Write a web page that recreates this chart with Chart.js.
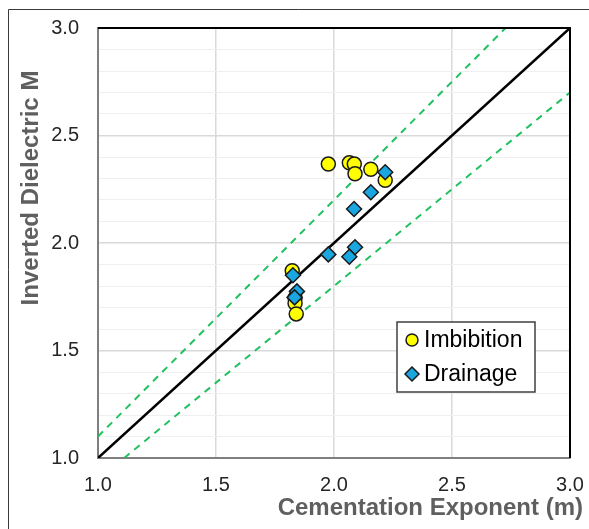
<!DOCTYPE html>
<html>
<head>
<meta charset="utf-8">
<script src="https://cdn.jsdelivr.net/npm/chart.js@4/dist/chart.umd.min.js"></script>
<style>
  html, body { margin: 0; padding: 0; background: #ffffff; }
  canvas { display: block; }
</style>
</head>
<body>
<canvas id="chart" width="589" height="529"></canvas>
<script>
// Cementation exponent (m) vs inverted dielectric M
const imbibitionM   = [1.976, 2.065, 2.086, 2.089, 2.156, 2.217, 1.823, 1.835, 1.835, 1.840];
const imbibitionInv = [2.367, 2.373, 2.367, 2.322, 2.343, 2.292, 1.871, 1.744, 1.720, 1.670];

const drainageM   = [2.217, 2.156, 2.085, 1.976, 2.089, 2.065, 1.826, 1.843, 1.833];
const drainageInv = [2.329, 2.236, 2.158, 1.947, 1.980, 1.936, 1.850, 1.775, 1.747];

// 1:1 line and +/-10 % bounds
const oneToOneX = [1.0, 3.0];
const oneToOneY = [1.0, 3.0];
const upperX = [1.0, 2.727];
const upperY = [1.1, 3.0];
const lowerX = [1.111, 3.0];
const lowerY = [1.0, 2.7];

const axisMin = 1.0;
const axisMax = 3.0;
const majorStep = 0.5;
const minorStep = 0.1;

const legendLabels = ['Imbibition', 'Drainage'];
const xTitle = 'Cementation Exponent (m)';
const yTitle = 'Inverted Dielectric M';

const pts = (xs, ys) => xs.map((x, i) => ({ x: x, y: ys[i] }));

const FONT = '"Liberation Sans", Arial, sans-serif';

const isMajor = v => Math.abs(v / majorStep - Math.round(v / majorStep)) < 1e-6;

// keep the plot area fixed: no extra room for overhanging end labels
const noOverhang = scale => {
  scale.paddingLeft = 0;
  scale.paddingRight = 0;
  scale.paddingTop = 0;
  scale.paddingBottom = 0;
};

// Axis titles, plot frame and the outer border
const decorations = {
  id: 'decorations',
  afterDraw(chart) {
    const { ctx, chartArea: a } = chart;
    ctx.save();
    // plot frame: top and right edges
    ctx.strokeStyle = '#000000';
    ctx.lineWidth = 2;
    ctx.beginPath();
    ctx.moveTo(a.left, a.top);
    ctx.lineTo(a.right, a.top);
    ctx.lineTo(a.right, a.bottom);
    ctx.stroke();
    // outer border
    ctx.strokeStyle = '#3a3a3a';
    ctx.lineWidth = 1;
    ctx.beginPath();
    ctx.moveTo(8.5, chart.height);
    ctx.lineTo(8.5, 9.5);
    ctx.lineTo(chart.width, 9.5);
    ctx.stroke();
    // axis titles
    ctx.fillStyle = '#5f5f5f';
    ctx.font = 'bold 24px ' + FONT;
    ctx.textAlign = 'right';
    ctx.textBaseline = 'middle';
    ctx.fillText(xTitle, 583, 508);
    ctx.translate(31, 188);
    ctx.rotate(-Math.PI / 2);
    ctx.textAlign = 'center';
    ctx.fillText(yTitle, 0, 0);
    ctx.restore();
  }
};

// Boxed legend inside the plot area
const boxLegend = {
  id: 'boxLegend',
  afterDraw(chart) {
    const { ctx } = chart;
    const x0 = 397, y0 = 322, w = 138, h = 70;
    ctx.save();
    ctx.fillStyle = '#ffffff';
    ctx.fillRect(x0, y0, w, h);
    ctx.strokeStyle = '#404040';
    ctx.lineWidth = 1.5;
    ctx.strokeRect(x0, y0, w, h);
    ctx.font = '23px ' + FONT;
    ctx.textBaseline = 'middle';
    ctx.textAlign = 'left';
    [0, 1].forEach(i => {
      const ds = chart.data.datasets[i];
      const cx = x0 + 15;
      const cy = y0 + 18 + i * 34;
      ctx.fillStyle = ds.backgroundColor;
      ctx.strokeStyle = ds.borderColor;
      ctx.lineWidth = 1.5;
      ctx.beginPath();
      if (ds.pointStyle === 'circle') {
        ctx.arc(cx, cy, 6, 0, Math.PI * 2);
      } else {
        ctx.moveTo(cx, cy - 7);
        ctx.lineTo(cx + 7, cy);
        ctx.lineTo(cx, cy + 7);
        ctx.lineTo(cx - 7, cy);
        ctx.closePath();
      }
      ctx.fill();
      ctx.stroke();
      ctx.fillStyle = '#000000';
      ctx.fillText(legendLabels[i], x0 + 27, cy + 1);
    });
    ctx.restore();
  }
};

new Chart(document.getElementById('chart'), {
  type: 'scatter',
  data: {
    datasets: [
      {
        label: legendLabels[0],
        data: pts(imbibitionM, imbibitionInv),
        pointStyle: 'circle',
        pointRadius: 7,
        pointHoverRadius: 7,
        backgroundColor: '#ffff00',
        borderColor: '#1a1a1a',
        borderWidth: 1.5,
        order: 2
      },
      {
        label: legendLabels[1],
        data: pts(drainageM, drainageInv),
        pointStyle: 'rectRot',
        pointRadius: 7.5,
        pointHoverRadius: 7.5,
        backgroundColor: '#1aa6e0',
        borderColor: '#1a1a1a',
        borderWidth: 1.5,
        order: 1
      },
      {
        type: 'line',
        label: '1:1',
        data: pts(oneToOneX, oneToOneY),
        borderColor: '#000000',
        borderWidth: 2.5,
        pointRadius: 0,
        fill: false,
        order: 3
      },
      {
        type: 'line',
        label: '+10%',
        data: pts(upperX, upperY),
        borderColor: '#22c060',
        borderWidth: 2,
        borderDash: [7, 6],
        pointRadius: 0,
        fill: false,
        order: 4
      },
      {
        type: 'line',
        label: '-10%',
        data: pts(lowerX, lowerY),
        borderColor: '#22c060',
        borderWidth: 2,
        borderDash: [7, 6],
        pointRadius: 0,
        fill: false,
        order: 4
      }
    ]
  },
  options: {
    responsive: false,
    animation: false,
    events: [],
    layout: { padding: { top: 28, right: 19, left: 0, bottom: 0 } },
    plugins: {
      legend: { display: false },
      tooltip: { enabled: false }
    },
    scales: {
      x: {
        type: 'linear',
        min: axisMin,
        max: axisMax,
        afterFit(scale) { scale.height = 71; noOverhang(scale); },
        ticks: {
          stepSize: majorStep,
          padding: 15,
          color: '#262626',
          font: { family: FONT, size: 20 },
          maxRotation: 0,
          callback: v => v.toFixed(1)
        },
        grid: { color: '#d9d9d9', lineWidth: 1.5, drawTicks: false },
        border: { color: '#7f7f7f', width: 2 }
      },
      y: {
        type: 'linear',
        min: axisMin,
        max: axisMax,
        afterFit(scale) { scale.width = 98; noOverhang(scale); },
        ticks: {
          stepSize: minorStep,
          padding: 19,
          color: '#262626',
          font: { family: FONT, size: 20 },
          autoSkip: false,
          callback: v => isMajor(v) ? v.toFixed(1) : ''
        },
        grid: {
          drawTicks: false,
          color: c => isMajor(c.tick.value) ? '#d9d9d9' : '#efefef',
          lineWidth: c => isMajor(c.tick.value) ? 1.5 : 1
        },
        border: { color: '#7f7f7f', width: 2 }
      }
    }
  },
  plugins: [decorations, boxLegend]
});
</script>
</body>
</html>
